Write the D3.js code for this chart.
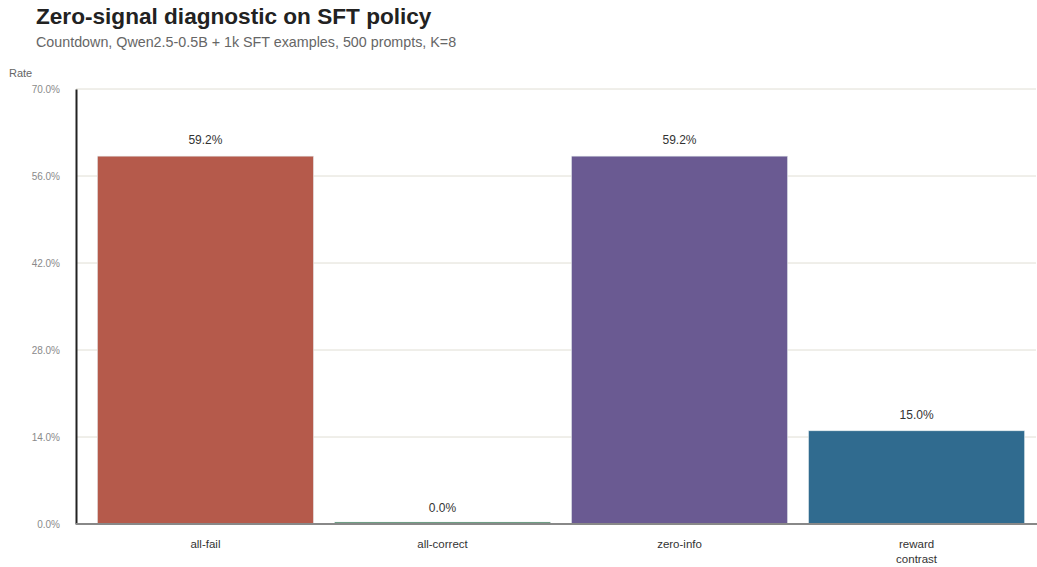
<!DOCTYPE html>
<html>
<head>
<meta charset="utf-8">
<script src="https://cdn.jsdelivr.net/npm/d3@7"></script>
<style>
  body { margin: 0; background: #fff; }
  svg { display: block; font-family: "Liberation Sans", Arial, sans-serif; }
</style>
</head>
<body>
<svg id="chart" width="1037" height="567"></svg>
<script>
// Outcome categories of the zero-signal diagnostic and their rates (%)
const categories = ["all-fail", "all-correct", "zero-info", "reward contrast"];
const rates = [59.2, 0.0, 59.2, 15.0];
const barColors = ["#b55a4b", "#3d7d57", "#6a5a92", "#306b8f"];
const yTicks = [0, 14, 28, 42, 56, 70];

const svg = d3.select("#chart");
const W = 1037, H = 567;
const margin = { top: 89, right: 0, bottom: 43, left: 76 };
const plotBottom = H - margin.bottom;

const x = d3.scaleBand()
  .domain(categories)
  .range([margin.left, 1046])
  .paddingInner(0.088)
  .paddingOuter(0.09);

const y = d3.scaleLinear()
  .domain([0, 70])
  .range([plotBottom, margin.top]);

// Title and subtitle
svg.append("text")
  .attr("x", 36).attr("y", 24)
  .attr("font-size", 22.6).attr("font-weight", "bold")
  .attr("fill", "#222")
  .text("Zero-signal diagnostic on SFT policy");
svg.append("text")
  .attr("x", 36).attr("y", 47)
  .attr("font-size", 14.3).attr("fill", "#666")
  .text("Countdown, Qwen2.5-0.5B + 1k SFT examples, 500 prompts, K=8");

// Horizontal gridlines
svg.append("g")
  .selectAll("line")
  .data(yTicks.filter(t => t > 0))
  .join("line")
  .attr("x1", margin.left).attr("x2", W - 1)
  .attr("y1", d => y(d)).attr("y2", d => y(d))
  .attr("stroke", "#e0ded4").attr("stroke-width", 1);

// Y axis
const yAxis = svg.append("g")
  .attr("transform", `translate(${margin.left},0)`)
  .call(d3.axisLeft(y).tickValues(yTicks).tickFormat(d => d.toFixed(1) + "%").tickSize(0).tickPadding(16));
yAxis.select(".domain").attr("stroke", "#222").attr("stroke-width", 2);
yAxis.selectAll("text").attr("font-size", 10).attr("fill", "#8a8a8a").attr("font-family", "Liberation Sans, Arial, sans-serif");

svg.append("text")
  .attr("x", 9).attr("y", 77)
  .attr("font-size", 11).attr("fill", "#666")
  .text("Rate");

// Bars
svg.append("g")
  .selectAll("rect")
  .data(categories)
  .join("rect")
  .attr("x", d => x(d))
  .attr("width", x.bandwidth())
  .attr("y", (d, i) => Math.min(y(rates[i]), plotBottom - 2))
  .attr("height", (d, i) => Math.max(plotBottom - y(rates[i]), 2))
  .attr("fill", (d, i) => barColors[i])
  .attr("stroke", "#e8eef0").attr("stroke-width", 0.6);

// Value labels
svg.append("g")
  .selectAll("text")
  .data(categories)
  .join("text")
  .attr("x", d => x(d) + x.bandwidth() / 2)
  .attr("y", (d, i) => y(rates[i]) - 12)
  .attr("text-anchor", "middle")
  .attr("font-size", 12).attr("fill", "#333")
  .text((d, i) => rates[i].toFixed(1) + "%");

// X axis
const xAxis = svg.append("g")
  .attr("transform", `translate(0,${plotBottom})`)
  .call(d3.axisBottom(x).tickSize(0).tickPadding(0));
xAxis.select(".domain").attr("stroke", "#888").attr("stroke-width", 2).attr("d", `M${margin.left},0H${W}`);
xAxis.selectAll(".tick text").remove();
xAxis.selectAll(".tick").each(function(d) {
  const words = d.split(" ");
  const t = d3.select(this).append("text")
    .attr("text-anchor", "middle")
    .attr("font-size", 11.5).attr("fill", "#333")
    .attr("font-family", "Liberation Sans, Arial, sans-serif");
  words.forEach((w, i) => {
    t.append("tspan").attr("x", 0).attr("y", 24 + i * 15).text(w);
  });
});
</script>
</body>
</html>
